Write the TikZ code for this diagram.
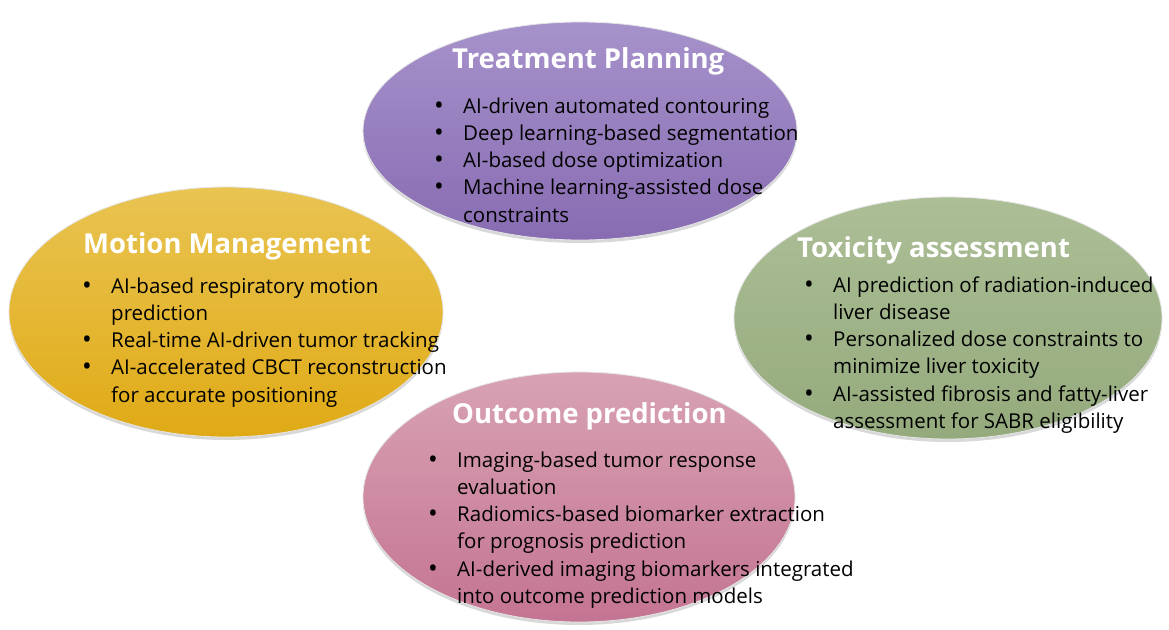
\documentclass[tikz,border=0pt]{standalone}
\usepackage{fontspec}
\setmainfont{Open Sans}
\usetikzlibrary{shapes.geometric,shadows}
\definecolor{purpleA}{RGB}{166,146,203}
\definecolor{purpleB}{RGB}{136,108,178}
\definecolor{yellowA}{RGB}{233,196,82}
\definecolor{yellowB}{RGB}{224,170,22}
\definecolor{greenA}{RGB}{172,190,150}
\definecolor{greenB}{RGB}{148,170,124}
\definecolor{pinkA}{RGB}{216,162,180}
\definecolor{pinkB}{RGB}{196,116,146}
\newcommand{\bul}{\raisebox{-1pt}{\fontsize{26}{26}\selectfont\textbullet}}
\begin{document}
\begin{tikzpicture}[x=1pt,y=-1pt,
  topic/.style={ellipse,draw=white!80!gray,line width=0.8pt,
    drop shadow={shadow xshift=0pt,shadow yshift=-3pt,opacity=.3}},
  title/.style={anchor=base west,inner sep=0pt,text=white,font=\fontsize{27.5}{34}\selectfont\bfseries},
  items/.style={anchor=base west,inner sep=0pt,font=\fontsize{20.5}{27.3}\selectfont}]
  \useasboundingbox[fill=white] (0,0) rectangle (1169,629);
  \node[topic,top color=purpleA,bottom color=purpleB,minimum width=434pt,minimum height=218pt] (plan) at (580,131) {};
  \node[topic,top color=yellowA,bottom color=yellowB,minimum width=434pt,minimum height=250pt] (motion) at (226,312) {};
  \node[topic,top color=greenA,bottom color=greenB,minimum width=428pt,minimum height=242pt] (tox) at (948,318) {};
  \node[topic,top color=pinkA,bottom color=pinkB,minimum width=432pt,minimum height=250pt] (outcome) at (579,497) {};
  % titles
  \node[title] (planT) at (452,68) {Treatment Planning};
  \node[title] (motionT) at (83,253) {Motion Management};
  \node[title] (toxT) at (797,257) {Toxicity assessment};
  \node[title] (outcomeT) at (452,423) {Outcome prediction};
  % bullet lists
  \node[items] (planL) at (434,113) {\begin{tabular}[t]{@{}p{29pt}@{}l@{}}
    \bul & AI-driven automated contouring\\
    \bul & Deep learning-based segmentation\\
    \bul & AI-based dose optimization\\
    \bul & Machine learning-assisted dose\\
         & constraints\end{tabular}};
  \node[items] (motionL) at (82,293) {\begin{tabular}[t]{@{}p{29pt}@{}l@{}}
    \bul & AI-based respiratory motion\\
         & prediction\\
    \bul & Real-time AI-driven tumor tracking\\
    \bul & AI-accelerated CBCT reconstruction\\
         & for accurate positioning\end{tabular}};
  \node[items] (toxL) at (804,292) {\begin{tabular}[t]{@{}p{29pt}@{}l@{}}
    \bul & AI prediction of radiation-induced\\
         & liver disease\\
    \bul & Personalized dose constraints to\\
         & minimize liver toxicity\\
    \bul & AI-assisted fibrosis and fatty-liver\\
         & assessment for SABR eligibility\end{tabular}};
  \node[items] (outcomeL) at (428,467) {\begin{tabular}[t]{@{}p{29pt}@{}l@{}}
    \bul & Imaging-based tumor response\\
         & evaluation\\
    \bul & Radiomics-based biomarker extraction\\
         & for prognosis prediction\\
    \bul & AI-derived imaging biomarkers integrated\\
         & into outcome prediction models\end{tabular}};
\end{tikzpicture}
\end{document}
